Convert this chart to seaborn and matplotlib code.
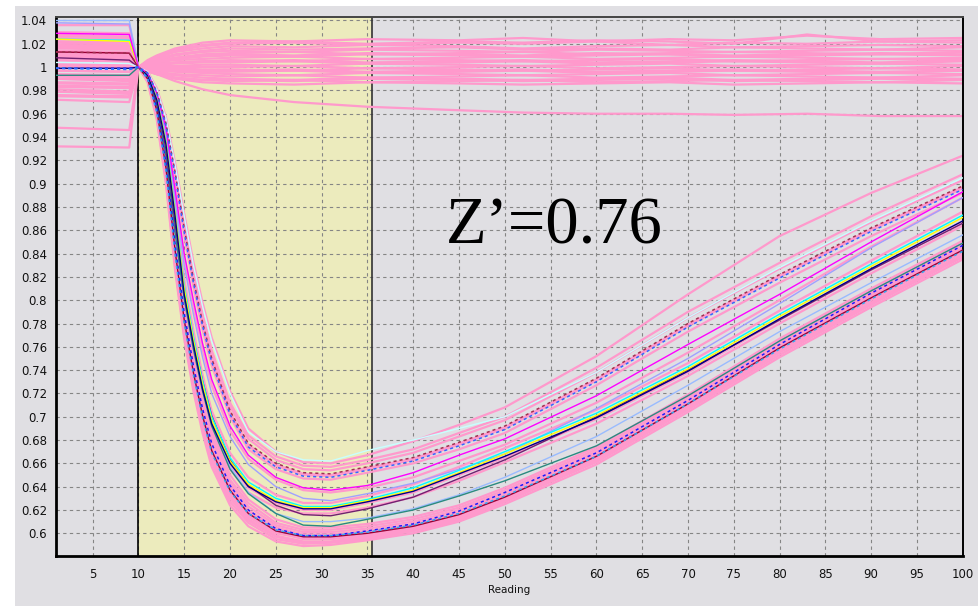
import matplotlib
matplotlib.use("Agg")
import matplotlib.pyplot as plt
import pandas as pd
import seaborn as sns
from matplotlib.patches import Rectangle
from matplotlib.ticker import FixedLocator, NullFormatter

# ---------------- data ----------------
X_DROP = [1, 9, 10, 11, 12, 13, 14, 15, 16, 17, 18, 20, 22, 25, 28, 31, 35,
          40, 45, 50, 60, 70, 80, 90, 100]
X_FLAT = [1, 9, 10, 11, 12, 14, 17, 20, 27, 35, 45, 52, 60, 68, 75, 83, 91, 100]

# lower dense bundle (pink)
dA = [1.002, 1.000, 1.000, 0.987, 0.955, 0.900, 0.826, 0.767, 0.722, 0.686, 0.657, 0.624, 0.606, 0.593, 0.589, 0.590, 0.594, 0.600, 0.610, 0.625, 0.659, 0.704, 0.751, 0.794, 0.835]
dB = [1.014, 1.012, 1.000, 0.988, 0.958, 0.905, 0.831, 0.772, 0.727, 0.690, 0.661, 0.627, 0.609, 0.595, 0.591, 0.592, 0.595, 0.602, 0.611, 0.627, 0.661, 0.706, 0.753, 0.796, 0.837]
dC = [0.986, 0.985, 1.000, 0.989, 0.960, 0.909, 0.836, 0.776, 0.731, 0.694, 0.664, 0.631, 0.612, 0.598, 0.593, 0.593, 0.597, 0.603, 0.613, 0.628, 0.663, 0.708, 0.756, 0.798, 0.839]
dD = [1.021, 1.019, 1.000, 0.990, 0.962, 0.912, 0.840, 0.780, 0.735, 0.698, 0.668, 0.634, 0.615, 0.601, 0.595, 0.595, 0.598, 0.604, 0.614, 0.629, 0.664, 0.709, 0.757, 0.800, 0.841]
dE = [0.994, 0.993, 1.000, 0.990, 0.963, 0.915, 0.844, 0.784, 0.739, 0.702, 0.671, 0.637, 0.618, 0.603, 0.597, 0.597, 0.600, 0.606, 0.616, 0.631, 0.666, 0.711, 0.759, 0.802, 0.843]
dF = [1.027, 1.025, 1.000, 0.991, 0.965, 0.918, 0.848, 0.788, 0.743, 0.706, 0.675, 0.640, 0.620, 0.605, 0.599, 0.599, 0.602, 0.608, 0.618, 0.633, 0.668, 0.713, 0.761, 0.804, 0.845]
dG = [0.979, 0.977, 1.000, 0.991, 0.966, 0.921, 0.852, 0.792, 0.747, 0.710, 0.679, 0.643, 0.623, 0.607, 0.601, 0.601, 0.604, 0.610, 0.620, 0.635, 0.670, 0.715, 0.763, 0.806, 0.847]
dH = [1.008, 1.007, 1.000, 0.992, 0.968, 0.924, 0.856, 0.796, 0.751, 0.714, 0.683, 0.646, 0.626, 0.609, 0.603, 0.603, 0.606, 0.612, 0.622, 0.637, 0.672, 0.717, 0.765, 0.808, 0.849]
dI = [1.017, 1.016, 1.000, 0.989, 0.959, 0.907, 0.834, 0.775, 0.731, 0.695, 0.666, 0.633, 0.614, 0.600, 0.596, 0.596, 0.599, 0.605, 0.615, 0.630, 0.664, 0.710, 0.758, 0.801, 0.842]
dJ = [0.990, 0.988, 1.000, 0.992, 0.967, 0.923, 0.855, 0.797, 0.753, 0.717, 0.687, 0.650, 0.629, 0.612, 0.605, 0.605, 0.608, 0.614, 0.624, 0.639, 0.674, 0.719, 0.767, 0.810, 0.851]
dK = [1.003, 1.001, 1.000, 0.988, 0.957, 0.903, 0.829, 0.770, 0.726, 0.690, 0.662, 0.630, 0.611, 0.597, 0.592, 0.592, 0.596, 0.602, 0.612, 0.627, 0.662, 0.707, 0.755, 0.797, 0.838]
dL = [1.011, 1.010, 1.000, 0.991, 0.964, 0.917, 0.846, 0.786, 0.741, 0.704, 0.673, 0.639, 0.619, 0.604, 0.598, 0.598, 0.601, 0.607, 0.617, 0.632, 0.667, 0.712, 0.760, 0.803, 0.844]
# middle bundle (pink)
c1 = [1.019, 1.018, 1.000, 0.993, 0.971, 0.932, 0.869, 0.803, 0.760, 0.723, 0.693, 0.659, 0.639, 0.626, 0.620, 0.620, 0.626, 0.635, 0.650, 0.665, 0.698, 0.738, 0.783, 0.826, 0.867]
c2 = [0.983, 0.982, 1.000, 0.994, 0.974, 0.939, 0.880, 0.818, 0.774, 0.736, 0.705, 0.669, 0.648, 0.633, 0.626, 0.626, 0.632, 0.642, 0.657, 0.673, 0.706, 0.746, 0.791, 0.834, 0.876]
c3 = [1.006, 1.005, 1.000, 0.992, 0.970, 0.929, 0.864, 0.798, 0.755, 0.718, 0.688, 0.655, 0.635, 0.622, 0.617, 0.617, 0.622, 0.631, 0.645, 0.661, 0.694, 0.735, 0.780, 0.823, 0.864]
m1 = [1.001, 1.000, 1.000, 0.994, 0.977, 0.946, 0.892, 0.836, 0.795, 0.758, 0.727, 0.688, 0.664, 0.646, 0.637, 0.635, 0.639, 0.648, 0.662, 0.676, 0.712, 0.755, 0.800, 0.846, 0.888]
# upper bundle (pink)
b1 = [1.016, 1.015, 1.000, 0.995, 0.979, 0.951, 0.908, 0.860, 0.816, 0.779, 0.748, 0.703, 0.675, 0.658, 0.650, 0.649, 0.655, 0.663, 0.676, 0.690, 0.731, 0.778, 0.820, 0.860, 0.896]
b2 = [0.992, 0.990, 1.000, 0.996, 0.980, 0.953, 0.912, 0.865, 0.822, 0.785, 0.754, 0.709, 0.681, 0.663, 0.655, 0.654, 0.660, 0.669, 0.683, 0.697, 0.738, 0.785, 0.827, 0.867, 0.903]
b3 = [1.009, 1.008, 1.000, 0.995, 0.978, 0.949, 0.905, 0.856, 0.812, 0.775, 0.744, 0.700, 0.672, 0.655, 0.647, 0.646, 0.652, 0.660, 0.672, 0.686, 0.727, 0.773, 0.815, 0.855, 0.892]
b4 = [0.981, 0.979, 1.000, 0.996, 0.981, 0.955, 0.914, 0.868, 0.825, 0.788, 0.757, 0.712, 0.684, 0.666, 0.658, 0.657, 0.663, 0.672, 0.686, 0.700, 0.742, 0.790, 0.832, 0.872, 0.908]
b5 = [1.022, 1.021, 1.000, 0.995, 0.979, 0.952, 0.909, 0.861, 0.817, 0.780, 0.749, 0.704, 0.676, 0.659, 0.651, 0.650, 0.656, 0.664, 0.677, 0.691, 0.732, 0.779, 0.821, 0.861, 0.897]
top1 = [0.997, 0.996, 1.000, 0.996, 0.982, 0.957, 0.918, 0.874, 0.833, 0.798, 0.768, 0.722, 0.690, 0.670, 0.661, 0.660, 0.667, 0.679, 0.693, 0.708, 0.752, 0.805, 0.855, 0.892, 0.924]

# coloured wells
blue_low = [0.999, 0.999, 1.000, 0.991, 0.965, 0.918, 0.848, 0.789, 0.744, 0.707, 0.677, 0.641, 0.620, 0.604, 0.598, 0.598, 0.602, 0.608, 0.619, 0.635, 0.669, 0.714, 0.762, 0.806, 0.847]
maroon_low = [1.013, 1.012, 1.000, 0.990, 0.963, 0.914, 0.843, 0.783, 0.738, 0.701, 0.671, 0.637, 0.617, 0.602, 0.597, 0.597, 0.600, 0.606, 0.616, 0.631, 0.666, 0.711, 0.759, 0.802, 0.843]
skyblue_low = [0.999, 0.998, 1.000, 0.990, 0.961, 0.911, 0.839, 0.780, 0.736, 0.699, 0.669, 0.636, 0.617, 0.603, 0.598, 0.598, 0.601, 0.607, 0.617, 0.632, 0.666, 0.711, 0.758, 0.801, 0.842]
lightblue = [1.040, 1.040, 1.000, 0.992, 0.968, 0.926, 0.860, 0.803, 0.760, 0.724, 0.694, 0.657, 0.635, 0.617, 0.610, 0.610, 0.613, 0.621, 0.633, 0.648, 0.683, 0.727, 0.773, 0.815, 0.856]
teal = [0.993, 0.993, 1.000, 0.992, 0.967, 0.924, 0.858, 0.801, 0.758, 0.722, 0.692, 0.655, 0.634, 0.617, 0.607, 0.606, 0.612, 0.620, 0.632, 0.645, 0.675, 0.718, 0.765, 0.808, 0.849]
purple = [1.008, 1.006, 1.000, 0.993, 0.970, 0.930, 0.866, 0.810, 0.767, 0.731, 0.701, 0.663, 0.641, 0.624, 0.616, 0.615, 0.621, 0.631, 0.647, 0.663, 0.700, 0.740, 0.783, 0.826, 0.866]
navy = [0.999, 0.999, 1.000, 0.993, 0.972, 0.934, 0.872, 0.805, 0.762, 0.724, 0.694, 0.660, 0.640, 0.627, 0.621, 0.621, 0.627, 0.636, 0.651, 0.666, 0.699, 0.739, 0.784, 0.827, 0.868]
yellow = [1.024, 1.022, 1.000, 0.993, 0.973, 0.936, 0.875, 0.810, 0.766, 0.728, 0.697, 0.662, 0.642, 0.628, 0.622, 0.622, 0.628, 0.637, 0.652, 0.668, 0.701, 0.741, 0.786, 0.829, 0.871]
cyan = [1.024, 1.023, 1.000, 0.993, 0.973, 0.937, 0.877, 0.813, 0.769, 0.731, 0.700, 0.665, 0.644, 0.630, 0.623, 0.623, 0.629, 0.639, 0.654, 0.670, 0.703, 0.743, 0.788, 0.831, 0.873]
lavender = [1.038, 1.037, 1.000, 0.994, 0.976, 0.944, 0.888, 0.830, 0.788, 0.751, 0.720, 0.683, 0.659, 0.640, 0.630, 0.628, 0.634, 0.643, 0.655, 0.668, 0.707, 0.750, 0.797, 0.845, 0.888]
magenta = [1.029, 1.028, 1.000, 0.995, 0.978, 0.948, 0.895, 0.840, 0.800, 0.763, 0.732, 0.692, 0.667, 0.648, 0.639, 0.637, 0.641, 0.652, 0.667, 0.681, 0.718, 0.762, 0.805, 0.850, 0.893]
maroon_up = [1.013, 1.012, 1.000, 0.995, 0.979, 0.952, 0.910, 0.862, 0.818, 0.781, 0.750, 0.705, 0.677, 0.660, 0.652, 0.651, 0.657, 0.665, 0.678, 0.692, 0.733, 0.780, 0.822, 0.862, 0.898]
blue_up = [0.999, 0.998, 1.000, 0.995, 0.978, 0.950, 0.907, 0.858, 0.815, 0.778, 0.747, 0.702, 0.674, 0.657, 0.649, 0.648, 0.654, 0.662, 0.675, 0.689, 0.730, 0.777, 0.819, 0.859, 0.895]
lightcyan = [1.004, 1.003, 1.000, 0.996, 0.981, 0.956, 0.916, 0.872, 0.830, 0.795, 0.765, 0.720, 0.687, 0.670, 0.663, 0.662, 0.671, 0.680, 0.690, 0.700, 0.738, 0.785, 0.828, 0.868, 0.905]

# control wells (flat band)
f01 = [1.028, 1.026, 1.000, 1.006, 1.010, 1.016, 1.021, 1.023, 1.022, 1.024, 1.023, 1.025, 1.022, 1.024, 1.023, 1.027, 1.024, 1.025]
f02 = [1.030, 1.029, 1.000, 1.005, 1.009, 1.014, 1.018, 1.020, 1.021, 1.019, 1.021, 1.020, 1.022, 1.019, 1.021, 1.020, 1.022, 1.021]
f03 = [1.003, 1.002, 1.000, 1.004, 1.008, 1.013, 1.016, 1.018, 1.017, 1.019, 1.018, 1.016, 1.018, 1.019, 1.017, 1.018, 1.019, 1.018]
f04 = [1.022, 1.021, 1.000, 1.004, 1.007, 1.011, 1.014, 1.016, 1.015, 1.016, 1.017, 1.015, 1.016, 1.015, 1.017, 1.016, 1.015, 1.017]
f05 = [0.976, 0.975, 1.000, 1.003, 1.006, 1.010, 1.013, 1.014, 1.013, 1.015, 1.014, 1.013, 1.015, 1.014, 1.013, 1.014, 1.015, 1.014]
f06 = [1.010, 1.009, 1.000, 1.003, 1.005, 1.008, 1.011, 1.012, 1.013, 1.011, 1.012, 1.013, 1.011, 1.012, 1.013, 1.012, 1.011, 1.013]
f07 = [0.990, 0.989, 1.000, 1.002, 1.004, 1.007, 1.009, 1.010, 1.009, 1.011, 1.010, 1.009, 1.010, 1.011, 1.009, 1.010, 1.011, 1.010]
f08 = [1.018, 1.017, 1.000, 1.002, 1.004, 1.006, 1.007, 1.008, 1.009, 1.007, 1.008, 1.009, 1.007, 1.008, 1.009, 1.008, 1.007, 1.008]
f09 = [0.948, 0.946, 1.000, 1.001, 1.003, 1.004, 1.005, 1.006, 1.005, 1.007, 1.006, 1.005, 1.006, 1.007, 1.005, 1.006, 1.007, 1.006]
f10 = [1.006, 1.005, 1.000, 1.001, 1.002, 1.003, 1.004, 1.004, 1.005, 1.003, 1.004, 1.005, 1.003, 1.004, 1.005, 1.004, 1.003, 1.005]
f11 = [0.984, 0.983, 1.000, 1.000, 1.001, 1.001, 1.002, 1.002, 1.001, 1.003, 1.002, 1.001, 1.002, 1.003, 1.001, 1.002, 1.003, 1.002]
f12 = [1.014, 1.013, 1.000, 1.000, 1.000, 1.000, 1.000, 1.000, 1.001, 0.999, 1.000, 1.001, 0.999, 1.000, 1.001, 1.000, 0.999, 1.001]
f13 = [0.997, 0.996, 1.000, 1.000, 0.999, 0.999, 0.998, 0.998, 0.997, 0.999, 0.998, 0.997, 0.998, 0.999, 0.997, 0.998, 0.999, 0.998]
f14 = [1.025, 1.024, 1.000, 0.999, 0.998, 0.997, 0.996, 0.996, 0.997, 0.995, 0.996, 0.997, 0.995, 0.996, 0.997, 0.996, 0.995, 0.997]
f15 = [0.932, 0.931, 1.000, 0.998, 0.997, 0.996, 0.995, 0.994, 0.993, 0.995, 0.994, 0.993, 0.994, 0.995, 0.993, 0.994, 0.995, 0.994]
f16 = [1.001, 1.000, 1.000, 0.998, 0.996, 0.994, 0.993, 0.992, 0.993, 0.991, 0.992, 0.993, 0.991, 0.992, 0.993, 0.992, 0.991, 0.993]
f17 = [0.979, 0.978, 1.000, 0.997, 0.995, 0.993, 0.991, 0.990, 0.989, 0.991, 0.990, 0.989, 0.990, 0.991, 0.989, 0.990, 0.991, 0.990]
f18 = [1.012, 1.011, 1.000, 0.997, 0.994, 0.991, 0.989, 0.988, 0.989, 0.987, 0.988, 0.989, 0.987, 0.988, 0.989, 0.988, 0.987, 0.989]
f19 = [0.993, 0.992, 1.000, 0.996, 0.994, 0.990, 0.987, 0.986, 0.985, 0.987, 0.986, 0.985, 0.986, 0.987, 0.985, 0.986, 0.987, 0.986]
f20 = [1.036, 1.036, 1.000, 1.005, 1.009, 1.015, 1.019, 1.021, 1.022, 1.020, 1.022, 1.021, 1.023, 1.022, 1.020, 1.028, 1.022, 1.023]
f21 = [1.027, 1.026, 1.000, 1.003, 1.005, 1.008, 1.010, 1.011, 1.010, 1.012, 1.011, 1.010, 1.012, 1.011, 1.010, 1.011, 1.012, 1.011]
f22 = [0.987, 0.986, 1.000, 0.999, 0.998, 0.998, 0.997, 0.997, 0.998, 0.996, 0.997, 0.998, 0.996, 0.997, 0.998, 0.997, 0.996, 0.997]
f23 = [1.019, 1.018, 1.000, 1.001, 1.002, 1.004, 1.005, 1.005, 1.006, 1.004, 1.005, 1.006, 1.004, 1.005, 1.006, 1.005, 1.004, 1.006]
f24 = [0.975, 0.974, 1.000, 0.997, 0.994, 0.991, 0.989, 0.989, 0.988, 0.990, 0.989, 0.988, 0.989, 0.990, 0.988, 0.989, 0.990, 0.989]
drift = [0.972, 0.970, 1.000, 0.997, 0.994, 0.988, 0.981, 0.976, 0.970, 0.966, 0.963, 0.961, 0.960, 0.960, 0.959, 0.960, 0.958, 0.958]

PINK = "#ff99cc"
pink_drop = [dA, dB, dC, dD, dE, dF, dG, dH, dI, dJ, dK, dL,
             c1, c2, c3, m1, b1, b2, b3, b4, b5, top1]
flat_wells = [f01, f02, f03, f04, f05, f06, f07, f08, f09, f10, f11, f12,
              f13, f14, f15, f16, f17, f18, f19, f20, f21, f22, f23, f24, drift]
solid_wells = [("lightblue", lightblue, "#99bbff"), ("teal", teal, "#2a8a80"),
               ("purple", purple, "#702070"), ("lavender", lavender, "#a0a0ff"),
               ("lightcyan", lightcyan, "#c8ffff"), ("maroon_low", maroon_low, "#990033"),
               ("cyan", cyan, "#00ffff"), ("yellow", yellow, "#ffff00"),
               ("navy", navy, "#000080"), ("magenta", magenta, "#ff00ff")]
dotted_wells = [("blue_low", blue_low, "#1a1aff"), ("skyblue_low", skyblue_low, "#33aaee"),
                ("maroon_up", maroon_up, "#a03050"), ("blue_up", blue_up, "#3366ff")]


def frame(xs, named):
    rows = []
    for name, ys in named:
        assert len(ys) == len(xs), name
        for x, y in zip(xs, ys):
            rows.append((name, x, y))
    return pd.DataFrame(rows, columns=["well", "reading", "ratio"])


df_flat = frame(X_FLAT, [(f"f{i}", v) for i, v in enumerate(flat_wells)])
df_pink = frame(X_DROP, [(f"p{i}", v) for i, v in enumerate(pink_drop)])
df_solid = frame(X_DROP, [(n, v) for n, v, c in solid_wells])
df_dot = frame(X_DROP, [(n, v) for n, v, c in dotted_wells])

# ---------------- figure ----------------
sns.set_style("white")
plt.rcParams["font.family"] = ["DejaVu Sans"]

fig = plt.figure(figsize=(9.79, 6.06), dpi=100, facecolor="white")
fig.patches.append(Rectangle((15 / 979, 0), 1 - 15 / 979, 600 / 606,
                             transform=fig.transFigure, facecolor="#e0dfe3",
                             edgecolor="none", zorder=-10))
ax = fig.add_axes([56 / 979, 50 / 606, (962.7 - 56) / 979, (556 - 17) / 606])
ax.set_facecolor("#e0dfe3")

ax.axvspan(10, 35.5, color="#ecebbd", zorder=0.2, lw=0)

sns.lineplot(data=df_flat, x="reading", y="ratio", units="well", estimator=None,
             color=PINK, lw=1.6, ax=ax, legend=False, zorder=2)
sns.lineplot(data=df_pink, x="reading", y="ratio", units="well", estimator=None,
             color=PINK, lw=1.6, ax=ax, legend=False, zorder=2)
sns.lineplot(data=df_solid, x="reading", y="ratio", hue="well",
             palette={n: c for n, v, c in solid_wells}, estimator=None,
             lw=1.0, ax=ax, legend=False, zorder=3)
sns.lineplot(data=df_dot, x="reading", y="ratio", hue="well",
             palette={n: c for n, v, c in dotted_wells}, estimator=None,
             lw=1.1, ax=ax, legend=False, zorder=3, dashes=False)
for ln in ax.lines[-len(dotted_wells):]:
    ln.set_linestyle((0, (2, 2)))

ax.axvline(10, color="black", lw=1.2, zorder=1.5)
ax.axvline(35.5, color="#333333", lw=1.2, zorder=1.5)

ax.set_xlim(1, 100)
ax.set_ylim(0.5805, 1.043)
xt = list(range(5, 101, 5))
yt = [round(0.60 + 0.02 * i, 2) for i in range(23)]
ax.set_xticks(xt)
ax.set_xticklabels([str(v) for v in xt])
ax.xaxis.set_minor_locator(FixedLocator([v for v in range(1, 101) if v % 5]))
ax.xaxis.set_minor_formatter(NullFormatter())
ax.set_yticks(yt)
ax.set_yticklabels([f"{v:g}" for v in yt])
ax.tick_params(axis="both", which="major", direction="out", length=3.5, width=0.8,
               color="#333333", labelsize=8.5, labelcolor="#111111")
ax.tick_params(axis="x", which="major", pad=5)
ax.tick_params(axis="y", which="major", pad=3)
ax.tick_params(axis="x", which="minor", direction="out", length=2, width=0.7,
               color="#333333")
ax.grid(True, which="major", color="#858585", linestyle=(0, (3, 3)), lw=0.8)
ax.set_axisbelow(True)
for s in ax.spines.values():
    s.set_visible(True)
    s.set_color("black")
ax.spines["left"].set_linewidth(2)
ax.spines["bottom"].set_linewidth(2)
ax.spines["top"].set_linewidth(1.4)
ax.spines["right"].set_linewidth(1.4)
ax.spines["top"].set_color("#444444")

ax.set_xlabel("Reading", fontsize=7.5, labelpad=3, color="#111111")
ax.set_ylabel("")

ax.text(43.6, 0.849, "Z\u2019=0.76", fontsize=48, family=["Liberation Serif"],
        ha="left", va="baseline", color="black", zorder=5)

fig.savefig("out.png", dpi=100, facecolor="white")
